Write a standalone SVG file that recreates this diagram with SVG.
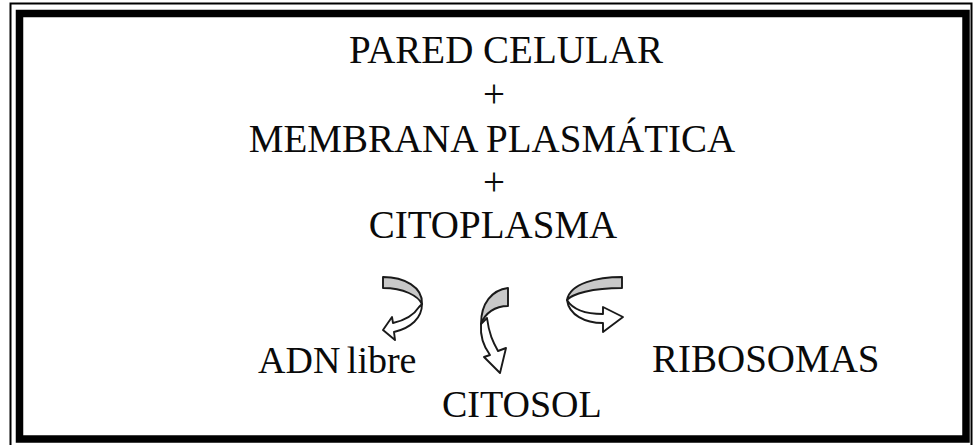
<svg xmlns="http://www.w3.org/2000/svg" width="974" height="445" viewBox="0 0 974 445">
<style>
text{font-family:"Liberation Serif","Times New Roman",serif;font-size:39px;fill:#0a0a0a}
.tc{text-anchor:middle}
.sm{font-size:38px}
.back{fill:#c8c8c8;stroke:#1a1a1a;stroke-width:1.9;stroke-linejoin:round}
.front{fill:#fff;stroke:#1a1a1a;stroke-width:1.9;stroke-linejoin:round}
</style>
<rect x="0" y="0" width="974" height="445" fill="#fff"/>
<g id="frame" fill="none" stroke="#000">
<rect x="10.5" y="3.5" width="961" height="446" stroke-width="2"/>
<rect x="19.5" y="13.5" width="946.5" height="425.5" stroke-width="7.5"/>
</g>
<g id="pared"><text class="tc" x="506" y="63">PARED CELULAR</text></g>
<g id="plus1"><text class="tc" x="494" y="107">+</text></g>
<g id="membrana"><text class="tc" x="492" y="152">MEMBRANA PLASMÁTICA</text></g>
<g id="plus2"><text class="tc" x="494" y="195">+</text></g>
<g id="citoplasma"><text class="tc" x="493" y="238">CITOPLASMA</text></g>
<g id="adn"><text class="sm" x="258" y="373" word-spacing="-3">ADN libre</text></g>
<g id="citosol"><text class="sm" x="442" y="417">CITOSOL</text></g>
<g id="ribosomas"><text x="652" y="372">RIBOSOMAS</text></g>
<g id="connectors">
<g id="arrow-adn">
<path class="back" d="M383,277 C404,277 423,287 422,304 C418,296 404,288 383,288 Z"/>
<path class="front" d="M422,304 C422,318 411,328 394,332 L395,340 L383,330 L392,317 L393,323 C406,320 414,315 419,307 Z"/>
</g>
<g id="arrow-citosol">
<path class="back" d="M508,288 C492,290 481,303 481,324 C485,313 495,306 508,306 Z"/>
<path class="front" d="M481,324 C480,337 484,347 490,355 L484,357 L500,373 L506,348 L498,351 C493,342 489,334 487,318 Z"/>
</g>
<g id="arrow-ribosomas">
<path class="back" d="M622,277 C598,277 570,283 567,300 C572,294 592,288 622,288 Z"/>
<path class="front" d="M567,300 C569,315 585,323 603,323 L603,332 L623,317 L603,307 L603,314 C587,314 573,310 567,300 Z"/>
</g>
</g>
</svg>
